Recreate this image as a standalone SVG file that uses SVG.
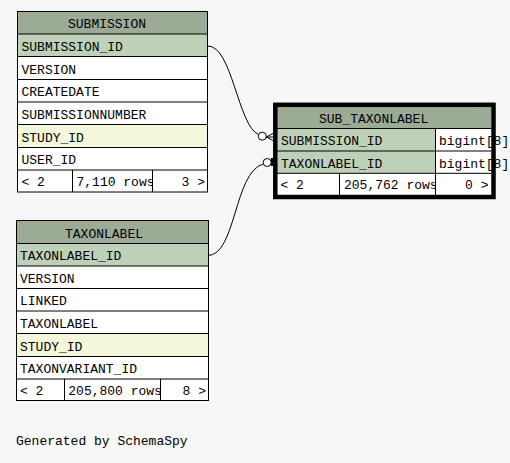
<svg xmlns="http://www.w3.org/2000/svg" width="510" height="463" viewBox="0 0 510 463">
<style>
text{font-family:"Liberation Mono","DejaVu Sans Mono",monospace;font-size:13px;fill:#000}
.hd{fill:#9bab96}
.pk{fill:#bed1b8}
.fk{fill:#f4f7da}
.w{fill:#ffffff}
.ln{stroke:#000;stroke-width:1;fill:none}
.e{stroke:#000;stroke-width:1;fill:none}
.c{stroke:#000;stroke-width:1;fill:#fff}
.end{text-anchor:end}
</style>
<defs>
<clipPath id="c1"><rect x="72" y="170" width="80" height="22"/></clipPath>
<clipPath id="c2"><rect x="64" y="379" width="96" height="22"/></clipPath>
<clipPath id="c3"><rect x="339" y="173" width="96" height="22"/></clipPath>
</defs>
<rect width="510" height="463" fill="#f7f7f7"/>

<g id="connectors">
<path class="e" d="M207.5,46 C232,45 238,126 258.5,134.5"/>
<circle class="c" cx="262.3" cy="136.2" r="4"/>
<path class="e" d="M266.3,137 L273,133.5 M266.3,137 L273,137 M266.3,137 L273,140.5"/>
<path class="e" d="M207.5,255.5 C236,256 234,172 263.2,164"/>
<circle class="c" cx="267.2" cy="162.5" r="4"/>
<path class="e" d="M271.2,162 L274,161.5"/>
<path stroke="#000" stroke-width="2" d="M272,158 L272,166"/>
</g>

<g id="SUBMISSION">
<rect class="hd" x="17.5" y="11.5" width="190" height="22.5"/>
<rect class="pk" x="17.5" y="34" width="190" height="22.5"/>
<rect class="w" x="17.5" y="56.5" width="190" height="68"/>
<rect class="fk" x="17.5" y="124.5" width="190" height="23"/>
<rect class="w" x="17.5" y="147.5" width="190" height="44.5"/>
<rect class="ln" x="17.5" y="11.5" width="190" height="180.5"/>
<path class="ln" d="M17.5,34H207.5M17.5,56.5H207.5M17.5,79.5H207.5M17.5,102H207.5M17.5,124.5H207.5M17.5,147.5H207.5M17.5,170H207.5M72.5,170V192M152.5,170V192"/>
<text x="68" y="27.7">SUBMISSION</text>
<text x="21.5" y="50.5">SUBMISSION_ID</text>
<text x="21.5" y="73.5">VERSION</text>
<text x="21.5" y="96">CREATEDATE</text>
<text x="21.5" y="118.5">SUBMISSIONNUMBER</text>
<text x="21.5" y="141.5">STUDY_ID</text>
<text x="21.5" y="164">USER_ID</text>
<text x="21.5" y="186">&lt; 2</text>
<text x="76.5" y="186" clip-path="url(#c1)">7,110 rows</text>
<text class="end" x="205" y="186">3 &gt;</text>
</g>

<g id="TAXONLABEL">
<rect class="hd" x="16.5" y="220.5" width="192" height="23"/>
<rect class="pk" x="16.5" y="243.5" width="192" height="22.5"/>
<rect class="w" x="16.5" y="266" width="192" height="67.5"/>
<rect class="fk" x="16.5" y="333.5" width="192" height="23"/>
<rect class="w" x="16.5" y="356.5" width="192" height="44"/>
<rect class="ln" x="16.5" y="220.5" width="192" height="180"/>
<path class="ln" d="M16.5,243.5H208.5M16.5,266H208.5M16.5,288.5H208.5M16.5,311H208.5M16.5,333.5H208.5M16.5,356.5H208.5M16.5,379H208.5M64.5,379V400.5M160.5,379V400.5"/>
<text x="65" y="237.5">TAXONLABEL</text>
<text x="20" y="260">TAXONLABEL_ID</text>
<text x="20" y="282.5">VERSION</text>
<text x="20" y="305">LINKED</text>
<text x="20" y="327.5">TAXONLABEL</text>
<text x="20" y="350.5">STUDY_ID</text>
<text x="20" y="373">TAXONVARIANT_ID</text>
<text x="20" y="395">&lt; 2</text>
<text x="68.3" y="395" clip-path="url(#c2)">205,800 rows</text>
<text class="end" x="206" y="395">8 &gt;</text>
</g>

<g id="SUB_TAXONLABEL">
<rect class="hd" x="277" y="106.5" width="214" height="22"/>
<rect class="pk" x="277" y="128.5" width="158.5" height="44.5"/>
<rect class="w" x="435.5" y="128.5" width="55.5" height="44.5"/>
<rect class="w" x="277" y="173" width="214" height="22"/>
<path class="ln" d="M277,128.5H491M277,151H491M277,173.3H491M435.5,128.5V195M339.5,173.3V195"/>
<rect x="275.3" y="104.8" width="218.2" height="92.2" fill="none" stroke="#000" stroke-width="4.5"/>
<text x="319" y="122.5">SUB_TAXONLABEL</text>
<text x="281" y="145">SUBMISSION_ID</text>
<text x="439" y="145">bigint[8]</text>
<text x="281" y="167.5">TAXONLABEL_ID</text>
<text x="439" y="167.5">bigint[8]</text>
<text x="280.5" y="189">&lt; 2</text>
<text x="344" y="189" clip-path="url(#c3)">205,762 rows</text>
<text class="end" x="488.5" y="189">0 &gt;</text>
</g>

<text x="16" y="445">Generated by SchemaSpy</text>
</svg>
